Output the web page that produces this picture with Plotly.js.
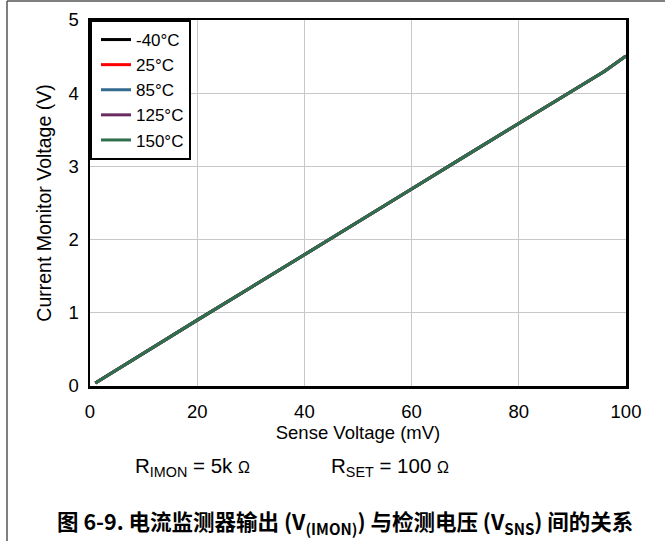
<!DOCTYPE html>
<html>
<head>
<meta charset="utf-8">
<script src="https://cdn.plot.ly/plotly-3.0.1.min.js"></script>
<style>
html,body{margin:0;padding:0;background:#fff;}
#chart{width:665px;height:541px;}
</style>
</head>
<body>
<div id="chart"></div>
<script>
// Data
const senseVoltage = [1, 10, 20, 30, 40, 50, 60, 70, 80, 90, 96, 100];
const vMinus40 = [0.04, 0.45, 0.90, 1.345, 1.79, 2.24, 2.69, 3.14, 3.585, 4.03, 4.30, 4.51];
const v25 = [0.04, 0.45, 0.90, 1.345, 1.79, 2.24, 2.69, 3.14, 3.585, 4.03, 4.30, 4.51];
const v85 = [0.04, 0.45, 0.90, 1.345, 1.79, 2.24, 2.69, 3.14, 3.585, 4.03, 4.30, 4.51];
const v125 = [0.04, 0.45, 0.90, 1.345, 1.79, 2.24, 2.69, 3.14, 3.585, 4.03, 4.30, 4.51];
const v150 = [0.04, 0.45, 0.90, 1.345, 1.79, 2.24, 2.69, 3.14, 3.585, 4.03, 4.30, 4.51];
const seriesNames = ['-40°C', '25°C', '85°C', '125°C', '150°C'];
const seriesValues = [vMinus40, v25, v85, v125, v150];
const seriesColors = ['#000000', '#ff0000', '#336b8e', '#6a2c60', '#2e6f4c'];
const xTicks = [0, 20, 40, 60, 80, 100];
const yTicks = [0, 1, 2, 3, 4, 5];

const FONT = 'Liberation Sans, Arial, sans-serif';

const traces = seriesNames.map((name, i) => ({
  x: senseVoltage,
  y: seriesValues[i],
  name: name,
  type: 'scatter',
  mode: 'lines',
  line: {color: seriesColors[i], width: 3}
}));

const layout = {
  width: 665, height: 541,
  margin: {l: 90, r: 39, t: 20, b: 155},
  paper_bgcolor: '#ffffff',
  plot_bgcolor: '#ffffff',
  font: {family: FONT, size: 18, color: '#000'},
  showlegend: true,
  legend: {
    x: 0, y: 1, xanchor: 'left', yanchor: 'top',
    bgcolor: '#ffffff', bordercolor: '#000000', borderwidth: 2,
    font: {family: FONT, size: 17, color: '#000'},
    tracegroupgap: 0, itemwidth: 30, indentation: 4
  },
  xaxis: {
    range: [0, 100], tickvals: xTicks, ticktext: xTicks.map(String),
    showgrid: true, gridcolor: '#c8c8c8', gridwidth: 1,
    showline: true, mirror: true, linecolor: '#000', linewidth: 2.5,
    zeroline: false, ticks: '', ticklabelstandoff: 7,
    tickfont: {family: FONT, size: 18.5, color: '#000'},
    title: {text: 'Sense Voltage (mV)', font: {family: FONT, size: 18.5, color: '#000'}, standoff: 0}
  },
  yaxis: {
    range: [0, 5], tickvals: yTicks, ticktext: yTicks.map(String),
    showgrid: true, gridcolor: '#c8c8c8', gridwidth: 1,
    showline: true, mirror: true, linecolor: '#000', linewidth: 2.5,
    zeroline: false, ticks: '', ticklabelstandoff: 5,
    tickfont: {family: FONT, size: 18.5, color: '#000'},
    title: {text: 'Current Monitor Voltage (V)', font: {family: FONT, size: 19.5, color: '#000'}, standoff: 12}
  },
  annotations: [
    {xref: 'paper', yref: 'paper', x: (133 - 90) / 536, y: (386 - 467) / 366,
     xanchor: 'left', yanchor: 'middle', showarrow: false,
     text: 'R<sub>IMON</sub> = 5k <span style="font-size:16px">Ω</span>',
     font: {family: FONT, size: 20.5, color: '#000'}},
    {xref: 'paper', yref: 'paper', x: (329 - 90) / 536, y: (386 - 467) / 366,
     xanchor: 'left', yanchor: 'middle', showarrow: false,
     text: 'R<sub>SET</sub> = 100 <span style="font-size:16px">Ω</span>',
     font: {family: FONT, size: 20.5, color: '#000'}},
    {xref: 'paper', yref: 'paper', x: (345 - 90) / 536, y: (386 - 522) / 366,
     xanchor: 'center', yanchor: 'middle', showarrow: false,
     text: '<b>图 6-9. 电流监测器输出 (V<sub>(IMON)</sub>) 与检测电压 (V<sub>SNS</sub>) 间的关系</b>',
     font: {family: 'Noto Sans CJK SC, Liberation Sans, sans-serif', size: 21.5, color: '#000'}}
  ],
  shapes: [
    {type: 'line', xref: 'paper', yref: 'paper',
     x0: (7 - 90) / 536, x1: (665 - 90) / 536, y0: (386 - 1) / 366, y1: (386 - 1) / 366,
     line: {color: '#555', width: 1.5}},
    {type: 'line', xref: 'paper', yref: 'paper',
     x0: (7 - 90) / 536, x1: (7 - 90) / 536, y0: (386 - 1) / 366, y1: (386 - 541) / 366,
     line: {color: '#555', width: 1.5}}
  ]
};

Plotly.newPlot('chart', traces, layout, {displayModeBar: false, staticPlot: true});
</script>
</body>
</html>
